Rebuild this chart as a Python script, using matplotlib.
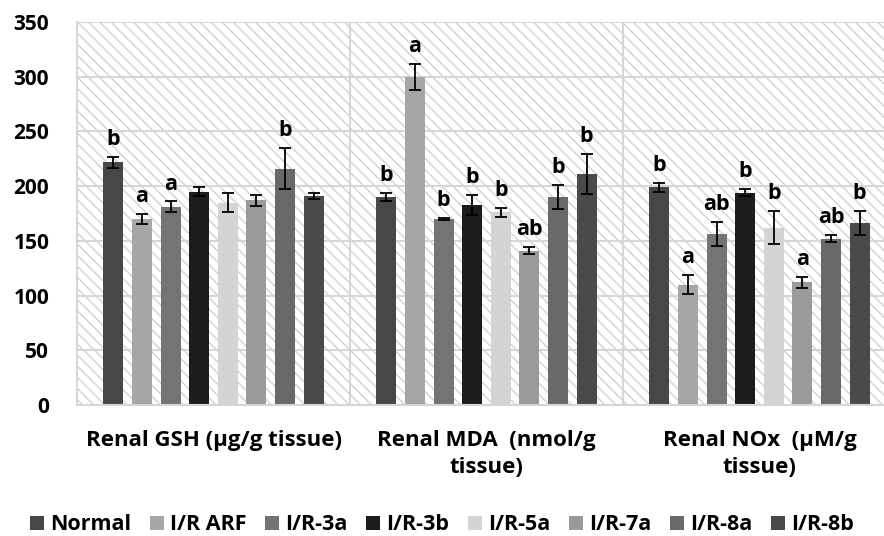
import matplotlib
matplotlib.use("Agg")
import matplotlib.pyplot as plt
import numpy as np
from matplotlib.patches import Rectangle, Patch

categories = ["Renal GSH (µg/g tissue)", "Renal MDA  (nmol/g\ntissue)", "Renal NOx  (µM/g\ntissue)"]
groups = ["Normal", "I/R ARF", "I/R-3a", "I/R-3b", "I/R-5a", "I/R-7a", "I/R-8a", "I/R-8b"]
colors = ["#474747", "#a6a6a6", "#747474", "#1c1c1c", "#d4d4d4", "#9a9a9a", "#696969", "#4a4a4a"]

# values[group] = [GSH, MDA, NOx]
normal = [222, 190, 199]
ir_arf = [170, 300, 110]
ir_3a = [181, 170, 156]
ir_3b = [195, 183, 194]
ir_5a = [185, 176, 162]
ir_7a = [187, 141, 112]
ir_8a = [216, 190, 152]
ir_8b = [191, 211, 166]
values = [normal, ir_arf, ir_3a, ir_3b, ir_5a, ir_7a, ir_8a, ir_8b]

err_normal = [5, 4, 4]
err_arf = [5, 12, 9]
err_3a = [5, 0.5, 11]
err_3b = [4, 9, 3]
err_5a = [9, 4, 15]
err_7a = [5, 3, 5]
err_8a = [19, 11, 3]
err_8b = [3, 18, 11]
errors = [err_normal, err_arf, err_3a, err_3b, err_5a, err_7a, err_8a, err_8b]

letters_gsh = ["b", "a", "a", "", "", "", "b", ""]
letters_mda = ["b", "a", "b", "b", "b", "ab", "b", "b"]
letters_nox = ["b", "a", "ab", "b", "b", "a", "ab", "b"]
letters = [letters_gsh, letters_mda, letters_nox]

yticks = [0, 50, 100, 150, 200, 250, 300, 350]

plt.rcParams['font.family'] = ['Open Sans', 'DejaVu Sans']
plt.rcParams['hatch.linewidth'] = 1.0
plt.rcParams['hatch.color'] = '#d2d2d2'

fig = plt.figure(figsize=(8.84, 5.36), dpi=100)
ax = fig.add_axes([77/884, 131/536, 819/884, 383/536])
ax.set_xlim(-0.5, 2.5)
ax.set_ylim(0, 350)

# hatched background
bg = Rectangle((0, 0), 1, 1, transform=ax.transAxes, facecolor='white',
               edgecolor='#d2d2d2', hatch='\\' * 3, linewidth=0, zorder=0)
ax.add_patch(bg)

for y in yticks:
    ax.axhline(y, color='#d6d6d6', lw=1.5, zorder=1)
for xb in [0.5, 1.5]:
    ax.axvline(xb, color='#d6d6d6', lw=1.5, zorder=1)

x = np.arange(len(categories))
step = 28.6 / 273
bw = 20 / 273
n = len(groups)
for i, (g, c, v, e) in enumerate(zip(groups, colors, values, errors)):
    xpos = x + (i - (n - 1) / 2) * step
    ax.bar(xpos, v, width=bw, color=c, zorder=2, label=g)
    ax.errorbar(xpos, v, yerr=e, fmt='none', ecolor='black', elinewidth=1.3,
                capsize=4.5, capthick=1.3, zorder=3)
    for k in range(len(categories)):
        lab = letters[k][i]
        if lab:
            ax.annotate(lab, (xpos[k], v[k] + e[k]), xytext=(0, 5),
                        textcoords='offset points', ha='center', va='bottom',
                        fontsize=15.5, fontweight='bold', zorder=4)

ax.set_yticks(yticks)
ax.set_yticklabels([str(t) for t in yticks], fontsize=15, fontweight='bold')
ax.set_xticks(x)
ax.set_xticklabels(categories, fontsize=16, fontweight='bold', linespacing=1.4, va='top')
ax.tick_params(axis='both', length=0)
ax.tick_params(axis='y', pad=20)
ax.tick_params(axis='x', pad=18)
for s in ['top', 'right']:
    ax.spines[s].set_visible(False)
for s in ['left', 'bottom']:
    ax.spines[s].set_color('#d6d6d6')
    ax.spines[s].set_linewidth(1.5)

handles = [Patch(facecolor=c, label=g) for g, c in zip(groups, colors)]
fig.legend(handles=handles, loc='center', bbox_to_anchor=(0.5, 11/536), ncol=8,
           frameon=False, prop={'size': 15.5, 'weight': 'bold'},
           handlelength=0.65, handleheight=0.65, handletextpad=0.3, columnspacing=0.85)

fig.savefig("out.png", dpi=100)
